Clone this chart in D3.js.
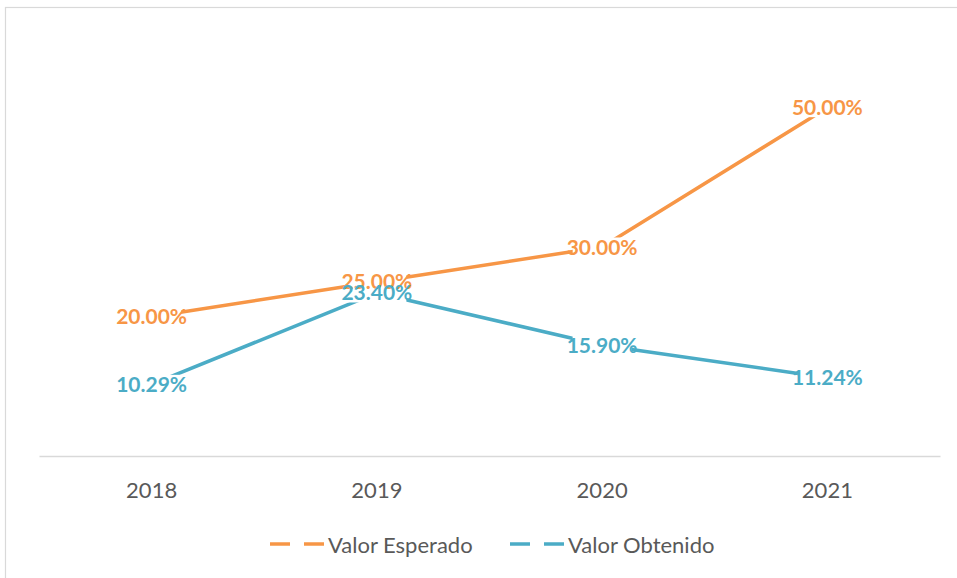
<!DOCTYPE html>
<html>
<head>
<meta charset="utf-8">
<script src="https://cdn.jsdelivr.net/npm/d3@7"></script>
<style>
  html, body { margin: 0; padding: 0; background: #fff; }
  svg { display: block; }
</style>
</head>
<body>
<svg id="chart" width="957" height="578"></svg>
<script>
const years = ["2018", "2019", "2020", "2021"];
const esperado = [0.20, 0.25, 0.30, 0.50];
const obtenido = [0.1029, 0.2340, 0.1590, 0.1124];
const seriesNames = ["Valor Esperado", "Valor Obtenido"];
const seriesColors = ["#F79646", "#4BACC6"];

const series = [
  { name: seriesNames[0], color: seriesColors[0], values: esperado },
  { name: seriesNames[1], color: seriesColors[1], values: obtenido }
];

const svg = d3.select("#chart");
const W = 957, H = 578;

// chart border
svg.append("rect")
  .attr("x", 5.5).attr("y", 7.5)
  .attr("width", 960).attr("height", 600)
  .attr("fill", "#fff")
  .attr("stroke", "#D9D9D9").attr("stroke-width", 1.2);

const x = d3.scaleBand().domain(years).range([39, 940]);
const y = d3.scaleLinear().domain([0, 0.6]).range([456, 38]);
const cx = d => x(d) + x.bandwidth() / 2;

// x axis
const axis = svg.append("g")
  .attr("transform", `translate(0,${y(0)})`)
  .call(d3.axisBottom(x).tickSize(0).tickSizeOuter(0).tickPadding(26));
axis.select(".domain").attr("stroke", "#D9D9D9").attr("stroke-width", 1.5);
axis.selectAll("text")
  .attr("font-family", "Lato, sans-serif")
  .attr("font-size", 22)
  .attr("fill", "#595959");

// lines
const line = d3.line()
  .x((v, i) => cx(years[i]))
  .y(v => y(v));

svg.append("g").selectAll("path")
  .data(series)
  .join("path")
  .attr("d", s => line(s.values))
  .attr("fill", "none")
  .attr("stroke", s => s.color)
  .attr("stroke-width", 3.5)
  .attr("stroke-linejoin", "round");

// labels
const fmt = d3.format(".2%");
const labelData = [];
series.forEach(s => s.values.forEach((v, i) => labelData.push({ s, v, i })));

const bgLayer = svg.append("g");
const txtLayer = svg.append("g");

labelData.forEach(d => {
  const t = txtLayer.append("text")
    .attr("x", cx(years[d.i]))
    .attr("y", y(d.v) + 7.5)
    .attr("text-anchor", "middle")
    .attr("font-family", "Lato, sans-serif")
    .attr("font-weight", "bold")
    .attr("font-size", 21)
    .attr("fill", d.s.color)
    .text(fmt(d.v));
  const bb = t.node().getBBox();
  bgLayer.append("rect")
    .attr("x", bb.x + 6)
    .attr("y", bb.y + 4)
    .attr("width", bb.width - 12)
    .attr("height", bb.height - 6)
    .attr("fill", "#fff");
});

// legend
const legendPos = [270, 510];
const lg = svg.append("g").selectAll("g")
  .data(series)
  .join("g")
  .attr("transform", (s, i) => `translate(${legendPos[i]},544)`);
lg.append("line")
  .attr("x1", 0).attr("x2", 55)
  .attr("y1", 0).attr("y2", 0)
  .attr("stroke", s => s.color)
  .attr("stroke-width", 3.5)
  .attr("stroke-dasharray", "20,14");
lg.append("text")
  .attr("x", 58).attr("y", 8.5)
  .attr("font-family", "Lato, sans-serif")
  .attr("font-size", 22)
  .attr("fill", "#595959")
  .text(s => s.name);
</script>
</body>
</html>
